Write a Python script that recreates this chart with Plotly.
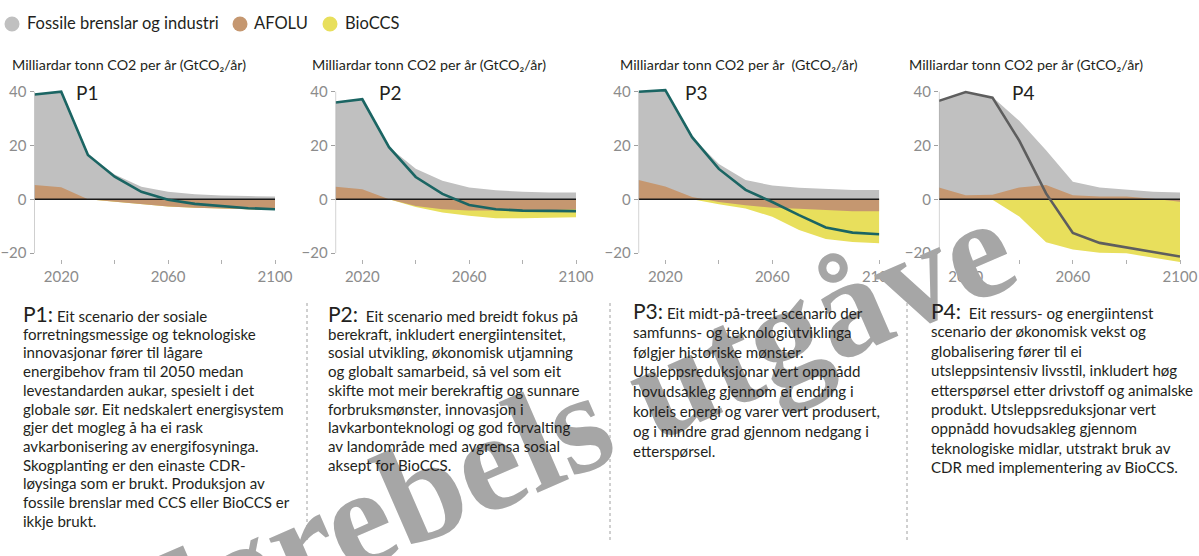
import plotly.graph_objects as go

# years on the x axis
years = [2010, 2020, 2030, 2040, 2050, 2060, 2070, 2080, 2090, 2100]

# P1 (GtCO2/yr)
fossil_p1 = [33.7, 35.5, 16.5, 9.2, 4.7, 2.8, 1.9, 1.4, 1.2, 1.0]
afolu_p1 = [5.3, 4.5, 0.0, -0.9, -1.9, -2.7, -3.1, -3.3, -3.7, -4.0]
bioccs_p1 = [0, 0, 0, 0, 0, 0, 0, 0, 0, 0]
net_p1 = [39.0, 40.0, 16.5, 8.4, 2.8, -0.2, -1.7, -2.4, -3.3, -3.7]

# P2
fossil_p2 = [31.3, 33.5, 19.4, 11.4, 6.9, 4.4, 3.4, 2.8, 2.5, 2.5]
afolu_p2 = [4.7, 3.7, 0.0, -2.5, -3.7, -4.2, -4.2, -4.2, -4.1, -3.7]
bioccs_p2 = [0, 0, 0, -0.4, -1.2, -1.9, -2.8, -2.8, -2.8, -3.0]
net_p2 = [36.0, 37.2, 19.4, 8.3, 2.0, -2.1, -3.7, -4.2, -4.3, -4.4]

# P3
fossil_p3 = [32.8, 35.8, 22.2, 13.1, 7.2, 5.1, 4.3, 3.9, 3.5, 3.5]
afolu_p3 = [7.2, 4.8, 0.9, -1.0, -2.2, -3.1, -3.5, -4.0, -4.4, -4.4]
bioccs_p3 = [0, 0, 0, -0.8, -1.2, -3.4, -7.9, -10.8, -11.5, -11.9]
net_p3 = [40.0, 40.6, 23.1, 11.3, 3.5, -1.0, -5.9, -10.5, -12.4, -13.0]

# P4
fossil_p4 = [32.2, 38.4, 36.3, 24.8, 12.9, 5.0, 3.4, 2.7, 2.6, 2.5]
afolu_p4 = [4.4, 1.5, 1.7, 4.4, 5.3, 1.5, 1.0, 1.0, 0.2, -0.9]
bioccs_p4 = [0, 0, -0.2, -6.4, -16.0, -18.7, -19.9, -20.1, -21.7, -22.4]
net_p4 = [36.6, 39.9, 37.8, 21.8, 2.2, -12.5, -16.2, -18.0, -19.6, -21.3]

x_tickvals = [2020, 2040, 2060, 2080, 2100]
x_ticktext = ['2020', '', '2060', '', '2100']
y_tickvals = [-20, 0, 20, 40]

legend_names = ['Fossile brenslar og industri', 'AFOLU', 'BioCCS']

axis_title = 'Milliardar tonn CO2 per år (GtCO₂/år)'
axis_title_p3 = 'Milliardar tonn CO2 per år  (GtCO₂/år)'

BIG = '<span style="font-size:21px">{}</span>'
text_p1 = [
    BIG.format('P1:') + ' Eit scenario der sosiale',
    'forretningsmessige og teknologiske',
    'innovasjonar fører til lågare',
    'energibehov fram til 2050 medan',
    'levestandarden aukar, spesielt i det',
    'globale sør. Eit nedskalert energisystem',
    'gjer det mogleg å ha ei rask',
    'avkarbonisering av energifosyninga.',
    'Skogplanting er den einaste CDR-',
    'løysinga som er brukt. Produksjon av',
    'fossile brenslar med CCS eller BioCCS er',
    'ikkje brukt.',
]
text_p2 = [
    BIG.format('P2:') + '  Eit scenario med breidt fokus på',
    'berekraft, inkludert energiintensitet,',
    'sosial utvikling, økonomisk utjamning',
    'og globalt samarbeid, så vel som eit',
    'skifte mot meir berekraftig og sunnare',
    'forbruksmønster, innovasjon i',
    'lavkarbonteknologi og god forvalting',
    'av landområde med avgrensa sosial',
    'aksept for BioCCS.',
]
text_p3 = [
    BIG.format('P3:') + ' Eit midt-på-treet scenario der',
    'samfunns- og teknologiutviklinga',
    'følgjer historiske mønster.',
    'Utsleppsreduksjonar vert oppnådd',
    'hovudsakleg gjennom ei endring i',
    'korleis energi og varer vert produsert,',
    'og i mindre grad gjennom nedgang i',
    'etterspørsel.',
]
text_p4 = [
    BIG.format('P4:') + '  Eit ressurs- og energiintenst',
    'scenario der økonomisk vekst og',
    'globalisering fører til ei',
    'utsleppsintensiv livsstil, inkludert høg',
    'etterspørsel etter drivstoff og animalske',
    'produkt. Utsleppsreduksjonar vert',
    'oppnådd hovudsakleg gjennom',
    'teknologiske midlar, utstrakt bruk av',
    'CDR med implementering av BioCCS.',
]

W, H = 1199, 556
GRAY = '#c0c0c0'
BROWN = '#c59770'
YELLOW = '#e8df5c'
TEXT = '#231f20'
TICK = '#8c8c8c'
FONT = 'Lato'


def px(x):
    return x / W


def py(y):
    return 1 - y / H


panels = [
    dict(label='P1', fossil=fossil_p1, afolu=afolu_p1, bio=bioccs_p1, net=net_p1,
         left=34.5, right=275.0, line='#1b6563', title=axis_title, tx=10, lx=74,
         text=text_p1, text_x=21, text_y=315, step=18.7),
    dict(label='P2', fossil=fossil_p2, afolu=afolu_p2, bio=bioccs_p2, net=net_p2,
         left=335.6, right=576.0, line='#1b6563', title=axis_title, tx=310, lx=377,
         text=text_p2, text_x=326, text_y=315, step=18.7),
    dict(label='P3', fossil=fossil_p3, afolu=afolu_p3, bio=bioccs_p3, net=net_p3,
         left=638.6, right=879.3, line='#1b6563', title=axis_title_p3, tx=618, lx=683,
         text=text_p3, text_x=631, text_y=312, step=19.8),
    dict(label='P4', fossil=fossil_p4, afolu=afolu_p4, bio=bioccs_p4, net=net_p4,
         left=938.9, right=1180.0, line='#5e5e5e', title=axis_title, tx=907, lx=1010,
         text=text_p4, text_x=929, text_y=312, step=19.4),
]

fig = go.Figure()
annotations = []
shapes = []

# watermark first so the text sits on top of it
annotations.append(dict(
    x=px(566), y=py(428), xref='paper', yref='paper', showarrow=False,
    text='<b>Førebels utgåve</b>', textangle=-23.5,
    font=dict(family='Liberation Serif', size=142, color='#a6a6a6'),
    xanchor='center', yanchor='middle'))

Y_LO, Y_HI = -23.5, 41.5

layout_axes = {}
for i, p in enumerate(panels):
    n = '' if i == 0 else str(i + 1)
    xa, ya = 'x' + n, 'y' + n
    top = [max(a, 0) + f for a, f in zip(p['afolu'], p['fossil'])]
    bottom = [min(a, 0) + b for a, b in zip(p['afolu'], p['bio'])]

    fig.add_trace(go.Scatter(x=years, y=top, mode='lines', line=dict(width=0),
                             fill='tozeroy', fillcolor=GRAY, xaxis=xa, yaxis=ya,
                             showlegend=False, hoverinfo='skip'))
    fig.add_trace(go.Scatter(x=years, y=bottom, mode='lines', line=dict(width=0),
                             fill='tozeroy', fillcolor=YELLOW, xaxis=xa, yaxis=ya,
                             showlegend=False, hoverinfo='skip'))
    fig.add_trace(go.Scatter(x=years, y=p['afolu'], mode='lines', line=dict(width=0),
                             fill='tozeroy', fillcolor=BROWN, xaxis=xa, yaxis=ya,
                             showlegend=False, hoverinfo='skip'))
    fig.add_trace(go.Scatter(x=[years[0], years[-1]], y=[0, 0], mode='lines',
                             line=dict(color='#1a1a1a', width=1.5), xaxis=xa, yaxis=ya,
                             showlegend=False, hoverinfo='skip'))
    fig.add_trace(go.Scatter(x=years, y=p['net'], mode='lines',
                             line=dict(color=p['line'], width=2.6), xaxis=xa, yaxis=ya,
                             showlegend=False))

    # y axis line only spans the ticked range
    shapes.append(dict(type='line', xref=xa, yref=ya, x0=years[0], x1=years[0],
                       y0=y_tickvals[0], y1=y_tickvals[-1],
                       line=dict(color='#a0a0a0', width=1)))

    layout_axes['xaxis' + n] = dict(
        domain=[px(p['left']), px(p['right'])], range=[years[0], years[-1]],
        anchor='free', position=py(259), showline=False, showgrid=False, zeroline=False,
        automargin=False,
        ticks='outside', ticklen=4, tickcolor='#b0b0b0', tickvals=x_tickvals,
        ticktext=x_ticktext, tickfont=dict(family=FONT, size=15, color=TICK))
    layout_axes['yaxis' + n] = dict(
        domain=[py(262.5), py(87.7)], range=[Y_LO, Y_HI], anchor=xa,
        showline=False, showgrid=False, zeroline=False, automargin=False,
        ticks='outside', ticklen=4, tickcolor='#a0a0a0', tickvals=y_tickvals,
        tickfont=dict(family=FONT, size=15, color=TICK))

    annotations.append(dict(x=px(p['tx']), y=py(65), xref='paper', yref='paper',
                            text=p['title'], showarrow=False, xanchor='left', yanchor='middle',
                            font=dict(family=FONT, size=14.3, color=TEXT)))
    annotations.append(dict(x=px(p['lx']), y=py(93), xref='paper', yref='paper',
                            text=p['label'], showarrow=False, xanchor='left', yanchor='middle',
                            font=dict(family=FONT, size=19, color=TEXT)))
    for k, line in enumerate(p['text']):
        ly = p['text_y'] + k * p['step'] - (2 if k == 0 else 0)
        annotations.append(dict(x=px(p['text_x']), y=py(ly),
                                xref='paper', yref='paper', text=line, showarrow=False,
                                xanchor='left', yanchor='middle',
                                font=dict(family=FONT, size=15.1, color=TEXT)))

# legend: circles + names
legend_cols = [GRAY, BROWN, YELLOW]
legend_cx = [12, 240, 330]
legend_tx = [25, 252, 343]
for name, col, cx, tx in zip(legend_names, legend_cols, legend_cx, legend_tx):
    shapes.append(dict(type='circle', xref='paper', yref='paper',
                       x0=px(cx - 7.5), x1=px(cx + 7.5), y0=py(31.5), y1=py(16.5),
                       fillcolor=col, line=dict(width=0)))
    annotations.append(dict(x=px(tx), y=py(23), xref='paper', yref='paper',
                            text=name, showarrow=False, xanchor='left', yanchor='middle',
                            font=dict(family=FONT, size=16.5, color=TEXT)))

# dashed dividers between the descriptions
for dx in [307, 610, 907]:
    shapes.append(dict(type='line', xref='paper', yref='paper',
                       x0=px(dx), x1=px(dx), y0=py(540), y1=py(300),
                       line=dict(color='#a0a0a0', width=1, dash='dot')))

fig.update_layout(
    width=W, height=H, autosize=False,
    margin=dict(l=0, r=0, t=0, b=0, autoexpand=False),
    paper_bgcolor='white', plot_bgcolor='white',
    showlegend=False,
    annotations=annotations, shapes=shapes,
    **layout_axes)

# drop the default page margin so the figure sits at the window corner
fig.write_html("out.html", config={'displayModeBar': False},
               post_script="document.body.style.margin='0';")
